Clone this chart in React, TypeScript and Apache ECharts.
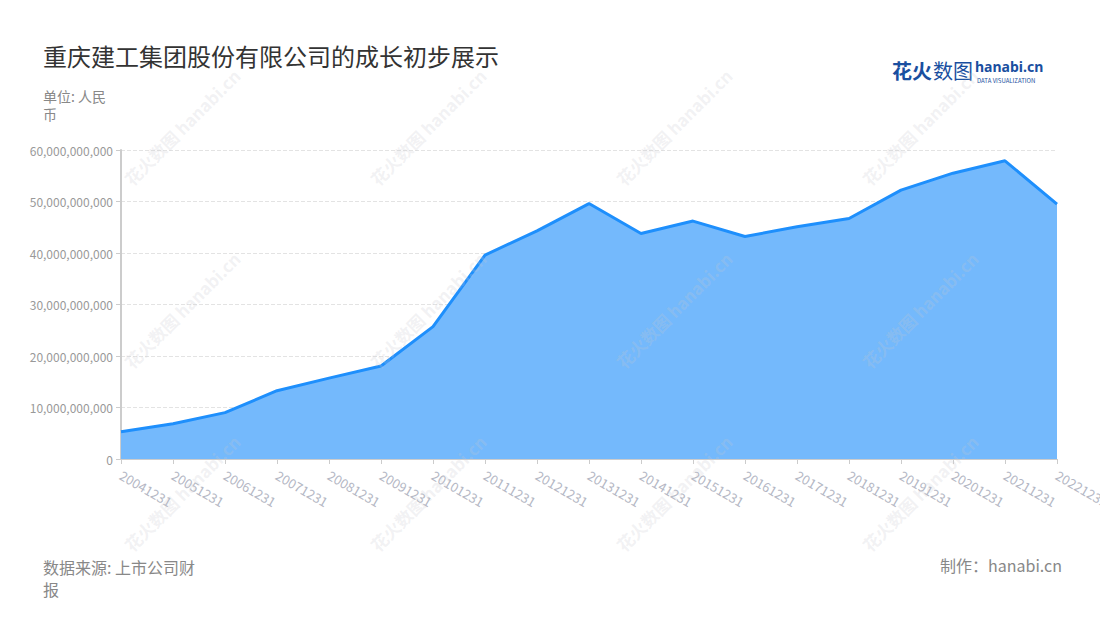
import React, { useEffect, useRef } from "react";
import * as echarts from "echarts";

const categories = [
  "20041231", "20051231", "20061231", "20071231", "20081231", "20091231",
  "20101231", "20111231", "20121231", "20131231", "20141231", "20151231",
  "20161231", "20171231", "20181231", "20191231", "20201231", "20211231", "20221231",
];
const values = [
  5.3e9, 6.85e9, 9.0e9, 13.26e9, 15.7e9, 18.06e9, 25.7e9, 39.6e9, 44.3e9, 49.6e9,
  43.8e9, 46.2e9, 43.2e9, 45.1e9, 46.7e9, 52.2e9, 55.5e9, 57.9e9, 49.5e9,
];

const watermarkCols = [182, 428, 674, 920];
const watermarkRows = [127, 310, 493];

const FONT = "'Noto Sans CJK SC', 'Noto Sans', sans-serif";

export default function App() {
  const ref = useRef<HTMLDivElement>(null);
  useEffect(() => {
    if (!ref.current) return;
    const chart = echarts.init(ref.current, undefined, { renderer: "svg" });
    const watermarks: any[] = [];
    watermarkRows.forEach((y) =>
      watermarkCols.forEach((x) =>
        watermarks.push({
          type: "text",
          x,
          y,
          rotation: Math.PI / 4,
          z: 100,
          silent: true,
          style: {
            text: "花火数图 hanabi.cn",
            fill: "rgba(200,200,206,0.24)",
            fontSize: 17,
            fontWeight: "bold",
            fontFamily: FONT,
            align: "center",
            verticalAlign: "middle",
          },
        })
      )
    );
    chart.setOption({
      animation: false,
      backgroundColor: "#ffffff",
      textStyle: { fontFamily: FONT },
      title: {
        text: "重庆建工集团股份有限公司的成长初步展示",
        left: 38,
        top: 38,
        textStyle: { fontSize: 24, fontWeight: "normal", color: "#333333", fontFamily: FONT },
      },
      grid: { left: 121, right: 43, top: 150, bottom: 161, containLabel: false, outerBoundsMode: "none" },
      xAxis: {
        type: "category",
        data: categories,
        boundaryGap: false,
        axisLine: { show: true, lineStyle: { color: "#cccccc" } },
        axisTick: { show: true, alignWithLabel: true, lineStyle: { color: "#cccccc" } },
        axisLabel: { rotate: -30, color: "#b4b7c4", fontSize: 13, interval: 0, margin: 15, fontFamily: FONT },
      },
      yAxis: {
        type: "value",
        min: 0,
        max: 60000000000,
        interval: 10000000000,
        axisLine: { show: true, lineStyle: { color: "#cccccc", width: 2 } },
        axisTick: { show: true, lineStyle: { color: "#cccccc" } },
        axisLabel: {
          color: "#999999",
          fontSize: 12,
          fontFamily: FONT,
          formatter: (v: number) => v.toLocaleString("en-US"),
        },
        splitLine: { show: true, lineStyle: { color: "#e3e3e3", type: "dashed" } },
      },
      series: [
        {
          type: "line",
          data: values,
          symbol: "none",
          lineStyle: { color: "#1e8ffc", width: 3 },
          itemStyle: { color: "#1e8ffc" },
          areaStyle: { color: "#74b9fc", opacity: 1 },
        },
      ],
      graphic: [
        ...watermarks,
        {
          type: "text",
          left: 43,
          top: 87,
          style: { text: "单位: 人民\n币", fill: "#888888", fontSize: 14, lineHeight: 18, fontFamily: FONT },
        },
        {
          type: "text",
          left: 43,
          top: 556,
          style: { text: "数据来源: 上市公司财\n报", fill: "#888888", fontSize: 16, lineHeight: 22, fontFamily: FONT },
        },
        {
          type: "text",
          right: 38,
          top: 557,
          style: { text: "制作：hanabi.cn", fill: "#888888", fontSize: 16, fontFamily: FONT },
        },
        {
          type: "text",
          left: 892,
          top: 60,
          style: { text: "花火", fill: "#1a4fa0", fontSize: 20, fontWeight: "bold", fontFamily: FONT },
        },
        {
          type: "text",
          left: 933,
          top: 60,
          style: { text: "数图", fill: "#1a4fa0", fontSize: 20, fontWeight: "normal", fontFamily: FONT },
        },
        {
          type: "text",
          left: 975,
          top: 59,
          style: { text: "hanabi.cn", fill: "#1a4fa0", fontSize: 14, fontWeight: "bold", fontFamily: "'Noto Sans', sans-serif" },
        },
        {
          type: "text",
          left: 977,
          top: 77,
          style: { text: "DATA VISUALIZATION", fill: "#1a4fa0", fontSize: 6, fontFamily: FONT },
        },
      ],
    });
    return () => chart.dispose();
  }, []);
  return <div ref={ref} style={{ width: 1100, height: 620, position: "absolute", left: 0, top: 0 }} />;
}
